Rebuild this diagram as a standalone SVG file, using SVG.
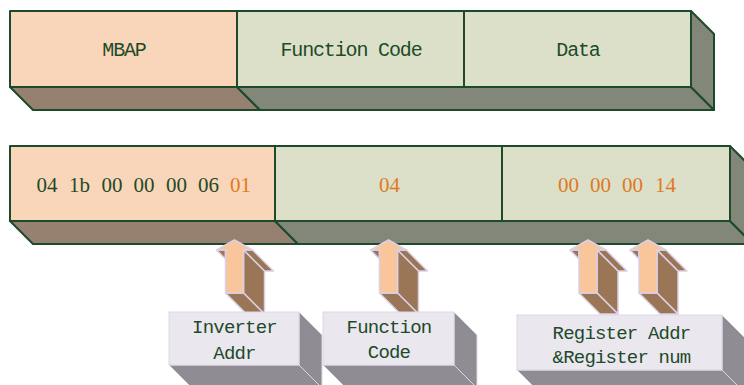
<svg xmlns="http://www.w3.org/2000/svg" xmlns:xlink="http://www.w3.org/1999/xlink" width="744" height="385" viewBox="0 0 744 385">
<defs>
<style>
.bar{stroke:#1D4A2B;stroke-width:2;stroke-linejoin:round}
.peach{fill:#F9D6BA}
.brownb{fill:#968070}
.green{fill:#DCE0C9}
.greyb{fill:#838779}
.lbl{font-family:"Liberation Mono","DejaVu Sans Mono",monospace;fill:#1E4A2A}
.top{font-size:20px;letter-spacing:-1.15px}
.box{font-size:19px;letter-spacing:-0.8px}
.hex{font-family:"Liberation Serif","Times New Roman",serif;font-size:21px;fill:#1E4A2A}
.or{fill:#E07A1F}
.af{fill:#F9C59B;stroke:#DCD0E6;stroke-width:1.5;stroke-linejoin:round}
.ab{fill:#9A7657;stroke:#DCD0E6;stroke-width:1.5;stroke-linejoin:round}
.bf{fill:#EAE7EF;stroke:#DDD8E6;stroke-width:1}
.bs{fill:#8F8D93;stroke:#DDD8E6;stroke-width:1}
</style>
<g id="arrow">
<polygon class="ab" points="-18,10 -9,10 -9,19"/>
<polygon class="ab" points="9,10 18,10 39,31 30,31"/>
<polygon class="ab" points="9,10 9,53 30,74 30,31"/>
<polygon class="ab" points="-9,53 9,53 30,74 12,74"/>
<polygon class="af" points="0,0 18,10 9,10 9,53 -9,53 -9,10 -18,10"/>
</g>
</defs>
<rect width="744" height="385" fill="#FFFFFF"/>

<g id="frame-structure">
<polygon class="bar brownb" points="10,87 237,87 260,110 33,110"/>
<polygon class="bar greyb" points="237,87 691,87 714,110 260,110"/>
<polygon class="bar greyb" points="691,11 714,34 714,110 691,87"/>
<rect id="mbap" class="bar peach" x="10" y="11" width="227" height="76"/>
<rect id="function-code" class="bar green" x="237" y="11" width="227" height="76"/>
<rect id="data" class="bar green" x="464" y="11" width="227" height="76"/>
<text class="lbl top" x="124" y="56" text-anchor="middle">MBAP</text>
<text class="lbl top" x="351" y="56" text-anchor="middle">Function Code</text>
<text class="lbl top" x="578" y="56" text-anchor="middle">Data</text>
</g>

<g id="frame-bytes">
<polygon class="bar brownb" points="10,221 275,221 298,244 33,244"/>
<polygon class="bar greyb" points="275,221 730,221 753,244 298,244"/>
<polygon class="bar greyb" points="730,146 753,169 753,244 730,221"/>
<rect id="mbap-bytes" class="bar peach" x="10" y="146" width="265" height="75"/>
<rect id="function-bytes" class="bar green" x="275" y="146" width="227" height="75"/>
<rect id="data-bytes" class="bar green" x="502" y="146" width="228" height="75"/>
<text class="hex" y="191.5"><tspan x="36.5">04</tspan><tspan x="69">1b</tspan><tspan x="101.5">00</tspan><tspan x="133.5">00</tspan><tspan x="166">00</tspan><tspan x="198">06</tspan><tspan class="or" x="230">01</tspan></text>
<text class="hex or" x="389.5" y="191.5" text-anchor="middle">04</text>
<text class="hex or" y="191.5"><tspan x="558">00</tspan><tspan x="590">00</tspan><tspan x="622">00</tspan><tspan x="655">14</tspan></text>
</g>

<g id="connectors">
<use xlink:href="#arrow" href="#arrow" transform="translate(234.5,240)"/>
<use xlink:href="#arrow" href="#arrow" transform="translate(388.5,240)"/>
<use xlink:href="#arrow" href="#arrow" transform="translate(588,240)"/>
<use xlink:href="#arrow" href="#arrow" transform="translate(648,240)"/>
</g>

<g id="label-inverter-addr">
<polygon class="bs" points="169,365 299,365 322,388 192,388"/>
<polygon class="bs" points="299,312 322,335 322,388 299,365"/>
<rect class="bf" x="169" y="312" width="130" height="53"/>
<text class="lbl box" x="234.5" y="333" text-anchor="middle">Inverter</text>
<text class="lbl box" x="234.5" y="359" text-anchor="middle">Addr</text>
</g>

<g id="label-function-code">
<polygon class="bs" points="323,365 454,365 477,388 346,388"/>
<polygon class="bs" points="454,312 477,335 477,388 454,365"/>
<rect class="bf" x="323" y="312" width="131" height="53"/>
<text class="lbl box" x="389" y="333" text-anchor="middle">Function</text>
<text class="lbl box" x="389" y="358" text-anchor="middle">Code</text>
</g>

<g id="label-register">
<polygon class="bs" points="517,370 722,370 745,393 540,393"/>
<polygon class="bs" points="722,315 745,338 745,393 722,370"/>
<rect class="bf" x="517" y="315" width="205" height="55"/>
<text class="lbl box" x="621.5" y="338.5" text-anchor="middle">Register Addr</text>
<text class="lbl box" x="621.5" y="363" text-anchor="middle">&amp;Register num</text>
</g>
</svg>
